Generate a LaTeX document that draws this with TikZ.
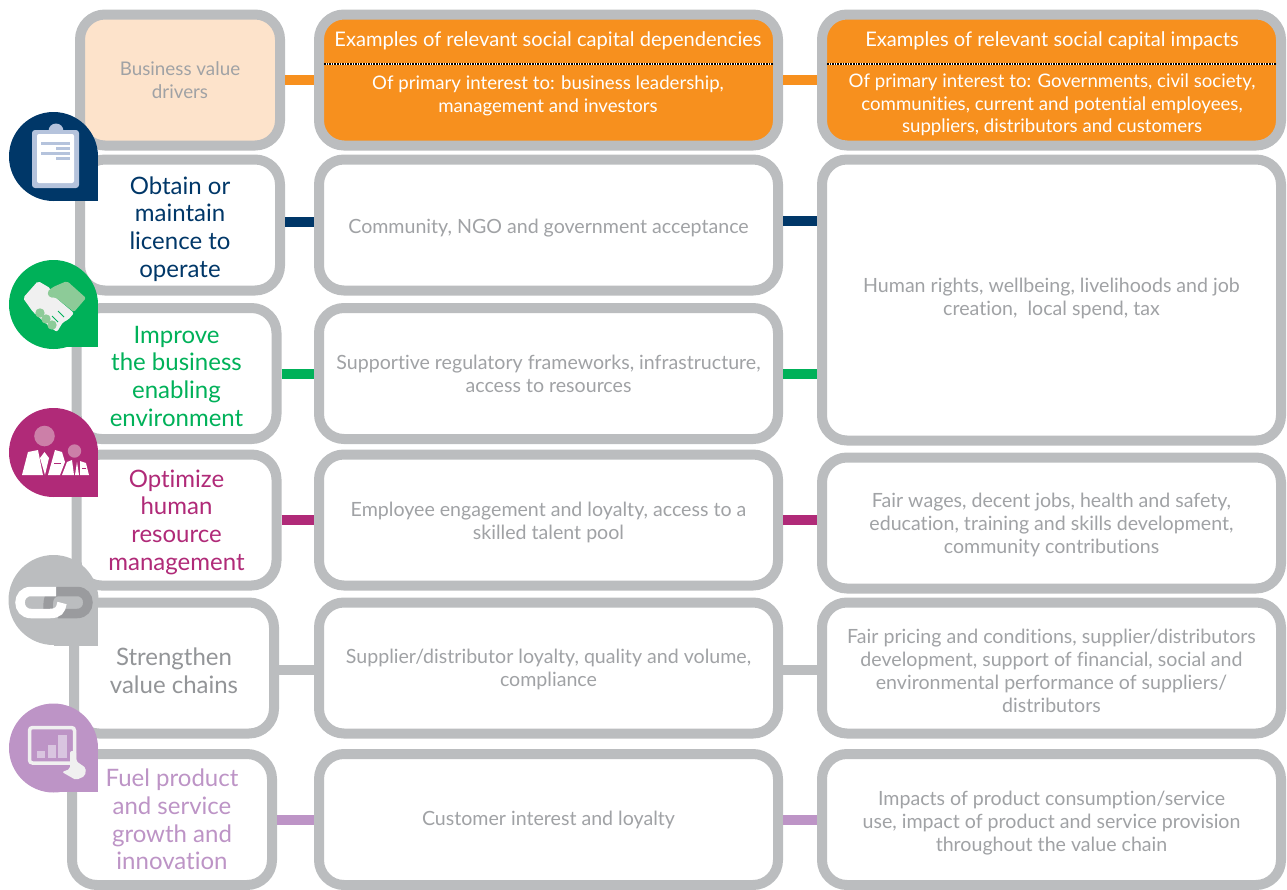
\documentclass[tikz,border=0pt]{standalone}
\usepackage{fontspec}
\setmainfont{Lato}[Ligatures=NoCommon]
\definecolor{boxgray}{HTML}{BBBDBF}
\definecolor{textgray}{HTML}{A0A2A5}
\definecolor{darkgray}{HTML}{939598}
\definecolor{linkgray}{HTML}{9A9B9E}
\definecolor{headorange}{HTML}{F7901E}
\definecolor{headpeach}{HTML}{FDE3CB}
\definecolor{navy}{HTML}{003768}
\definecolor{navylight}{HTML}{B5C3DC}
\definecolor{leafgreen}{HTML}{00B159}
\definecolor{leaflight}{HTML}{8DCB98}
\definecolor{plum}{HTML}{B02A78}
\definecolor{plumlight}{HTML}{CC7FA8}
\definecolor{lilac}{HTML}{BD94C6}
\definecolor{lilaclight}{HTML}{D9C5E0}
\definecolor{offwhite}{HTML}{F0F0F0}
\newcommand{\drop}[1]{\rule{0pt}{#1pt}}
\tikzset{
	box/.style={draw=boxgray, line width=10pt, rounded corners=25pt, fill=white, align=center, inner sep=0pt, text=textgray, font=\fontsize{19.6}{23}\selectfont},
	driver/.style={box, minimum width=200pt, minimum height=131pt, font=\fontsize{24}{27.7}\selectfont},
	middle/.style={box, minimum width=459pt, minimum height=131pt},
	right/.style={box, minimum width=459pt, minimum height=131pt},
	headtitle/.style={align=center, text=white, inner sep=0pt, font=\fontsize{20.1}{23}\selectfont},
	headsub/.style={align=center, text=white, inner sep=0pt, font=\fontsize{18.65}{22.6}\selectfont},
	link/.style={line width=10pt},
	headrule/.style={line width=1.6pt, densely dotted},
}
\begin{document}
\begin{tikzpicture}[x=1pt, y=-1pt]
\useasboundingbox (0,0) rectangle (1287,889);
\clip (0,0) rectangle (1287,889);
% first column
\node[driver, fill=headpeach, font=\fontsize{18.8}{23}\selectfont] (valueHead) at (180,80) {Business value\\drivers};
\node[driver, text=navy] (licence) at (180,225) {\drop{25.5}Obtain or\\maintain\\licence to\\operate};
\node[driver, text=leafgreen] (enabling) at (176.5,373.5) {\drop{22.5}Improve\\the business\\enabling\\environment};
\node[driver, text=plum] (human) at (176.5,520) {\drop{21.5}Optimize\\human\\resource\\management};
\node[driver, text=darkgray] (chains) at (174,668) {\drop{23.5}Strengthen\\value chains};
\node[driver, text=lilac] (fuel) at (172,819.5) {Fuel product\\and service\\growth and\\innovation};
% second column
\node[middle, fill=headorange] (depHead) at (548.5,80) {};
\node[middle] (depLicence) at (548.5,225) {\drop{21}Community, NGO and government acceptance};
\node[middle] (depEnabling) at (548.5,373.5) {Supportive regulatory frameworks, infrastructure,\\access to resources};
\node[middle] (depHuman) at (548.5,520) {\drop{18.5}Employee engagement and loyalty, access to a\\skilled talent pool};
\node[middle] (depChains) at (548.5,668) {\drop{16.5}Supplier/distributor loyalty, quality and volume,\\compliance};
\node[middle] (depFuel) at (548.5,819.5) {Customer interest and loyalty};
% third column
\node[right, fill=headorange] (impHead) at (1051.5,80) {};
\node[right, minimum height=281pt] (impShared) at (1051.5,300) {Human rights, wellbeing, livelihoods and job\\creation,\ \ local spend, tax\rule[-7pt]{0pt}{7pt}};
\node[right] (impHuman) at (1051.5,523) {\drop{18.5}Fair wages, decent jobs, health and safety,\\education, training and skills development,\\community contributions};
\node[right] (impChains) at (1051.5,668) {\drop{20.5}Fair pricing and conditions, supplier/distributors\\development, support of financial, social and\\environmental performance of suppliers/\\distributors};
\node[right] (impFuel) at (1051.5,819.5) {\drop{22.5}Impacts of product consumption/service\\use, impact of product and service provision\\throughout the value chain};
% header texts
\node[headtitle] (depTitle) at (548,41) {Examples of relevant social capital dependencies};
\node[headsub] (depSub) at (548,96) {Of primary interest to: business leadership,\\management and investors};
\node[headtitle] (impTitle) at (1052,41) {Examples of relevant social capital impacts};
\node[headsub] (impSub) at (1052,105) {Of primary interest to: Governments, civil society,\\communities, current and potential employees,\\suppliers, distributors and customers};
% dotted rules
\coordinate (depRuleL) at (324,64);
\coordinate (depRuleR) at (773,64);
\coordinate (impRuleL) at (827,64);
\coordinate (impRuleR) at (1276,64);
\draw[white, line width=1.6pt] (depRuleL) -- (depRuleR);
\draw[white, line width=1.6pt] (impRuleL) -- (impRuleR);
\draw[headrule] (depRuleL) -- (depRuleR);
\draw[headrule] (impRuleL) -- (impRuleR);
% connectors
\draw[link, headorange] (valueHead.east) -- (depHead.west);
\draw[link, headorange] (depHead.east) -- (impHead.west);
\draw[link, navy] ([yshift=3pt]licence.east) -- ([yshift=3pt]depLicence.west);
\draw[link, navy] ([yshift=4pt]depLicence.east) -- ([yshift=4pt]impShared.west |- depLicence.east);
\draw[link, leafgreen] (enabling.east) -- (depEnabling.west);
\draw[link, leafgreen] (depEnabling.east) -- (impShared.west |- depEnabling.east);
\draw[link, plum] (human.east) -- (depHuman.west);
\draw[link, plum] (depHuman.east) -- (impHuman.west |- depHuman.east);
\draw[link, boxgray] ([yshift=-2pt]chains.east) -- ([yshift=-2pt]depChains.west);
\draw[link, boxgray] ([yshift=-2pt]depChains.east) -- ([yshift=-2pt]impChains.west);
\draw[link, lilac] (fuel.east) -- (depFuel.west);
\draw[link, lilac] (depFuel.east) -- (impFuel.west |- depFuel.east);
% clipboard icon
\fill[navy] (53.5,156.5) circle (44.5pt);
\fill[navy] (53.5,156.5) rectangle (98,201);
\fill[navylight] (56,131) circle (7.5pt);
\fill[navylight, rounded corners=3pt] (32,130) rectangle (79,188);
\fill[white, rounded corners=2pt] (37,134) rectangle (74,183);
\fill[navylight] (41,142) rectangle (70,145);
\fill[navylight] (56,147) rectangle (70,150);
\fill[navylight] (41,152) rectangle (70,155);
\fill[navylight] (56,157) rectangle (70,160);
% handshake icon
\fill[leafgreen] (53.5,304.5) circle (44.5pt);
\fill[leafgreen] (53.5,304.5) rectangle (98,347);
\fill[offwhite, rounded corners=2pt] (23,298) -- (38,281) -- (50,288) -- (55,297) -- (74,313) -- (68,320) -- (63,322) -- (57,332) -- (50,327) -- (33,312) -- cycle;
\fill[leaflight, rounded corners=2pt] (47,292) -- (53,287) -- (67,281) -- (86,298) -- (74,312) -- (55,297) -- (50,298) -- cycle;
\fill[leaflight] (40,313) circle (4.7pt);
\fill[leaflight] (46,319) circle (4.7pt);
\fill[leaflight] (52,325) circle (4.7pt);
\draw[leafgreen, line width=1pt] (58,322) -- (52,316);
\draw[leafgreen, line width=1pt] (64,317) -- (58,311);
% people icon
\fill[plum] (53.5,452.5) circle (44.5pt);
\fill[plum] (53.5,452.5) rectangle (98,497);
\fill[plumlight] (44.5,436) circle (10.3pt);
\fill[plumlight] (74.5,451) circle (6.7pt);
\fill[white] (22,475) -- (28,452) -- (38,450) -- (43,475) -- cycle;
\fill[white] (40,458) -- (44.5,452) -- (49,458) -- (45,475) -- cycle;
\fill[white] (48,475) -- (55,450) -- (62,452) -- (65,462) -- (60,475) -- cycle;
\fill[white] (62,475) -- (67,462) -- (72,460) -- (74,475) -- cycle;
\fill[white] (75,475) -- (77,462) -- (79,475) -- cycle;
\fill[white] (80,475) -- (80,461) -- (86,463) -- (89,475) -- cycle;
\draw[plum, line width=0.8pt] (54,463) -- (61,463);
\draw[plum, line width=0.8pt] (82,468) -- (86,468);
% chain icon
\fill[boxgray] (53.5,600) circle (45pt);
\fill[boxgray] (53.5,600) rectangle (98,646);
\draw[linkgray, line width=9.5pt] (48,609) .. controls (48,597) and (50,591.5) .. (60,591.5) -- (77,591.5) to[out=0, in=0, looseness=1.7] (77,613.5) -- (58,613.5);
\draw[white, line width=9.5pt] (56,591.5) -- (31,591.5) to[out=180, in=180, looseness=1.7] (31,613.5) -- (50,613.5) .. controls (58,613.5) and (61,610) .. (62,603);
% tablet icon
\fill[lilac] (53.5,748) circle (44.5pt);
\fill[lilac] (53.5,748) rectangle (98,792);
\draw[offwhite, line width=3.5pt, rounded corners=3pt] (29.5,727.5) rectangle (74.5,763);
\fill[lilaclight] (37,751) rectangle (45,758);
\fill[lilaclight] (48,745) rectangle (56,758);
\fill[lilaclight] (58,735) rectangle (67,758);
\fill[offwhite, rounded corners=2pt] (70,751) -- (76,751) -- (76,761) -- (86,768) -- (85,776) -- (76,780) -- (62,772) -- (70,769) -- cycle;
\end{tikzpicture}
\end{document}
